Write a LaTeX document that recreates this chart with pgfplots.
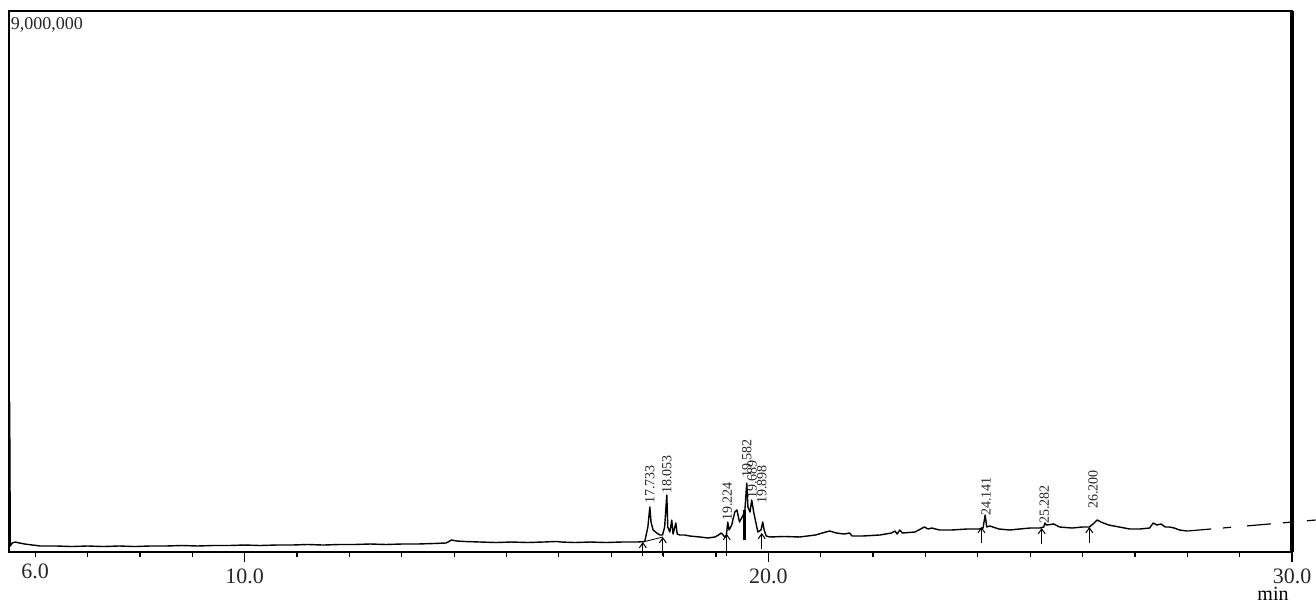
\documentclass[border=0pt]{standalone}
\usepackage{fontspec}
\setmainfont{Liberation Serif}
\usepackage{pgfplots}
\pgfplotsset{compat=1.18}
\usetikzlibrary{arrows.meta}

\begin{document}
\begin{tikzpicture}
\useasboundingbox (-4.5pt,-24.5pt) rectangle (653.5pt,276pt);
\begin{axis}[
  at={(0,0)}, anchor=south west,
  scale only axis, width=641.5pt, height=270.5pt,
  xmin=5.5, xmax=30, ymin=0, ymax=9000000,
  clip=false,
  axis line style={line width=0.8pt},
  ytick=\empty,
  xtick={10,20,30}, xticklabels={10.0,20.0,30.0},
  minor xtick={7,8,9,11,12,...,19,21,22,...,29},
  extra x ticks={6}, extra x tick labels={6.0},
  extra x tick style={major tick length=2.5pt},
  tick align=outside, xtick pos=bottom,
  major tick length=5pt, minor tick length=2.5pt,
  tick style={black, line width=0.6pt},
  xticklabel style={font=\fontsize{11}{13}\selectfont, text=black!85},
]
% chromatogram trace
\addplot[black, line width=0.7pt, line join=round] coordinates {
(5.50,67000) (5.512,2495000) (5.525,100000) (5.56,150000) (5.62,166000)
(5.70,150000) (5.80,133000) (5.95,116000) (6.10,100000) (6.40,100000)
(6.70,91000) (7.00,100000) (7.30,91000) (7.60,100000) (7.90,91000)
(8.20,100000) (8.50,100000) (8.80,108000) (9.10,100000) (9.40,108000)
(9.70,108000) (10.00,116000) (10.30,108000) (10.60,116000) (10.90,116000)
(11.20,125000) (11.50,116000) (11.80,125000) (12.10,125000) (12.40,133000)
(12.70,125000) (13.00,133000) (13.30,133000) (13.60,141000) (13.85,150000)
(13.95,200000) (14.05,183000) (14.20,175000) (14.50,166000) (14.80,158000)
(15.10,166000) (15.40,158000) (15.70,166000) (15.95,175000) (16.05,166000)
(16.30,158000) (16.60,166000) (16.90,158000) (17.20,166000) (17.50,166000)
(17.64,175000) (17.70,416000) (17.737,749000) (17.76,499000) (17.80,366000)
(17.87,316000) (17.93,283000) (17.98,283000) (18.02,416000) (18.061,948000)
(18.08,416000) (18.12,333000) (18.156,532000) (18.18,299000) (18.233,482000)
(18.26,299000) (18.31,283000) (18.40,283000) (18.50,266000) (18.69,250000)
(18.85,233000) (18.98,250000) (19.05,283000) (19.10,316000) (19.17,250000)
(19.20,283000) (19.225,499000) (19.25,366000) (19.30,449000) (19.36,665000)
(19.40,699000) (19.45,499000) (19.50,582000) (19.55,665000) (19.588,1148000)
(19.61,749000) (19.65,665000) (19.683,865000) (19.72,665000) (19.76,499000)
(19.80,333000) (19.86,366000) (19.893,499000) (19.92,366000) (19.96,266000)
(20.03,250000) (20.30,258000) (20.60,250000) (20.90,283000) (21.10,333000)
(21.17,349000) (21.30,316000) (21.45,299000) (21.55,316000) (21.60,266000)
(21.80,266000) (22.13,283000) (22.35,316000) (22.42,349000) (22.46,299000)
(22.51,366000) (22.56,316000) (22.80,333000) (22.98,416000) (23.05,383000)
(23.12,399000) (23.27,366000) (23.50,366000) (23.80,383000) (24.03,383000)
(24.10,399000) (24.141,616000) (24.17,416000) (24.23,433000) (24.40,383000)
(24.61,366000) (24.80,383000) (25.00,399000) (25.18,399000) (25.26,416000)
(25.282,482000) (25.31,449000) (25.45,466000) (25.56,416000) (25.80,399000)
(26.00,416000) (26.13,416000) (26.20,466000) (26.28,532000) (26.35,499000)
(26.50,449000) (26.70,416000) (26.90,383000) (27.10,383000) (27.28,399000)
(27.35,482000) (27.42,449000) (27.50,466000) (27.58,416000) (27.66,416000)
(27.75,399000) (27.85,366000) (28.00,349000)
};
% dashed continuation
\addplot[black, line width=0.6pt, dash pattern=on 12pt off 6pt on 4pt off 8pt] coordinates {
(28.00,349000) (30.45,532000)
};
% skimmed baseline under first peaks
\addplot[black, line width=0.4pt] coordinates {(17.603,166000) (17.985,250000)};
% drop line
\addplot[black, line width=1.3pt] coordinates {(19.55,200000) (19.55,699000)};
% integration markers
\addplot[black, line width=0.5pt, -{Straight Barb[length=2.5pt,width=3.5pt]},
  quiver={u=0, v=\thisrow{dv}}] table {
t y dv
17.603 -67000 233000
17.985 -67000 316000
19.206 -67000 366000
19.874 50000 266000
24.07 150000 266000
25.22 133000 266000
26.13 150000 266000
};
% right border (thicker)
\draw[line width=1.6pt] (rel axis cs:1,0) -- (rel axis cs:1,1);
% labels
\node[anchor=north west, inner sep=0pt, font=\fontsize{9}{11}\selectfont, text=black!85]
  at (rel axis cs:0,1) [xshift=0.8pt, yshift=-3.2pt] {9,000,000};
\node[anchor=north, inner sep=0pt, font=\fontsize{10}{12}\selectfont]
  at (rel axis cs:1,0) [xshift=-9.5pt, yshift=-17.6pt] {min};
\begin{scope}[every node/.style={rotate=90, anchor=west, inner sep=0.5pt, font=\fontsize{7}{8}\selectfont, text=black!85}]
\node at (axis cs:17.737,782000) {17.733};
\node at (axis cs:18.061,948000) {18.053};
\node at (axis cs:19.215,499000) {19.224};
\node at (axis cs:19.59,1214000) {19.582};
\node at (axis cs:19.69,865000) {19.689};
\node at (axis cs:19.874,782000) {19.898};
\node at (axis cs:24.16,582000) {24.141};
\node at (axis cs:25.27,449000) {25.282};
\node at (axis cs:26.20,699000) {26.200};
\end{scope}
\end{axis}
\end{tikzpicture}
\end{document}
